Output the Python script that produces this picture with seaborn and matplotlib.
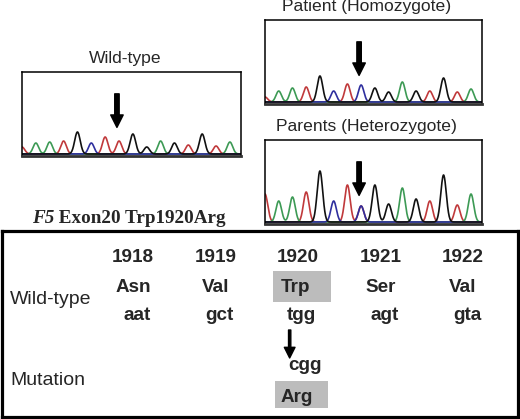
import numpy as np
import pandas as pd
import matplotlib
matplotlib.use("Agg")
import matplotlib.pyplot as plt
import seaborn as sns

# peak calls (one peak per base position)
WT_BASES = list("taatgcttggagtgta")
WT_HEIGHTS = [7, 11, 12, 13, 22, 11, 17, 13, 20, 7, 13, 11, 9, 20, 8, 12]
PT_BASES = list("taatgctcggagtgta")
PT_HEIGHTS = [5, 11, 14, 15, 26, 11, 18, 17, 14, 10, 20, 11, 11, 24, 10, 13]
PR_BASES = ["t", "a", "a", "t", "g", "c", "t", "ct", "g", "g", "a", "g", "t", "g", "t", "a"]
PR_HEIGHTS = [28, 21, 25, 30, 51, 21, 37, 16, 37, 18, 34, 23, 21, 47, 17, 28]
MUT_POS = 7

# table contents
CODON_NUM = ["1918", "1919", "1920", "1921", "1922"]
WT_AA = ["Asn", "Val", "Trp", "Ser", "Val"]
WT_CODON = ["aat", "gct", "tgg", "agt", "gta"]
MUT_COL = 2
MUT_CODON = "cgg"
MUT_AA = "Arg"

BASE_COLORS = {"a": "#3d9a55", "c": "#2f2f9e", "g": "#111111", "t": "#c0393b"}

sns.set_style("white")
plt.rcParams["font.family"] = ["Liberation Sans", "DejaVu Sans"]

W, H = 520, 419
fig = plt.figure(figsize=(W / 100, H / 100), dpi=100)


def px_axes(x0, y0, x1, y1):
    return fig.add_axes([x0 / W, 1 - y1 / H, (x1 - x0) / W, (y1 - y0) / H])


def trace_frame(bases, heights, sigma=0.2):
    grid = np.linspace(-0.6, 16.4, 900)
    rows = []
    for b in "acgt":
        sig = np.zeros_like(grid)
        for i, (bb, h) in enumerate(zip(bases, heights)):
            if b in bb:
                sig += h * np.exp(-((grid - i) ** 2) / (2 * sigma ** 2))
        rows.append(pd.DataFrame({"pos": grid, "signal": sig, "base": b}))
    return pd.concat(rows, ignore_index=True)


def chromatogram(box, bases, heights, title):
    ax = px_axes(*box)
    df = trace_frame(bases, heights)
    sns.lineplot(data=df, x="pos", y="signal", hue="base", palette=BASE_COLORS,
                 hue_order=list("tacg"), estimator=None, sort=False, legend=False,
                 lw=1.2, ax=ax)
    ax.set_xlim(0, 15.8)
    ax.set_ylim(-2, 82)
    ax.set_xticks([])
    ax.set_yticks([])
    ax.set_xlabel("")
    ax.set_ylabel("")
    for s in ax.spines.values():
        s.set_color("black")
        s.set_linewidth(1.1)
    ax.spines["bottom"].set_linewidth(2.0)
    ax.spines["bottom"].set_color("#333333")
    ax.annotate("", xy=(MUT_POS - 0.15, 0.34), xytext=(MUT_POS - 0.15, 0.74),
                xycoords=("data", "axes fraction"), textcoords=("data", "axes fraction"),
                arrowprops=dict(arrowstyle="simple,head_length=0.9,head_width=0.9,tail_width=0.32",
                                mutation_scale=10, color="black", shrinkA=0, shrinkB=0))
    ax.text(0.47, 1.155, title, transform=ax.transAxes, ha="center", va="center",
            fontsize=12.6)
    return ax


chromatogram((22, 72, 241, 156), WT_BASES, WT_HEIGHTS, "Wild-type")
chromatogram((265, 20, 482, 104), PT_BASES, PT_HEIGHTS, "Patient (Homozygote)")
chromatogram((265, 140, 482, 224), PR_BASES, PR_HEIGHTS, "Parents (Heterozygote)")

# title of the table: italic gene symbol followed by upright text
over = fig.add_axes([0, 0, 1, 1])
over.set_xlim(0, W)
over.set_ylim(H, 0)
over.axis("off")
serif = dict(family="Liberation Serif", weight="bold", fontsize=13.8, va="center")
gene = over.text(32, 218, "F5", style="italic", ha="left", **serif)
fig.canvas.draw()
bb = gene.get_window_extent(fig.canvas.get_renderer())
x_end = over.transData.inverted().transform((bb.x1, bb.y0))[0]
over.text(x_end, 218, " Exon20 Trp1920Arg", ha="left", **serif)

# table: columns in index units, rows in pixel units from the top of the box
tab = px_axes(2, 231, 518, 417)
tab.set_xlim(-1.59, 4.67)
tab.set_ylim(186, 0)
tab.set_xticks([])
tab.set_yticks([])
for s in tab.spines.values():
    s.set_color("black")
    s.set_linewidth(2.3)
tab.patch.set_alpha(0)

cols = np.arange(len(CODON_NUM))
bold = dict(fontsize=13.6, weight="bold", ha="center", va="center")
for c, num, aa, cod in zip(cols, CODON_NUM, WT_AA, WT_CODON):
    tab.text(c, 26, num, **bold)
    dx = 0.0
    if c == MUT_COL:
        tab.add_patch(plt.Rectangle((c - 0.3, 40), 0.70, 31, color="#bcbcbc", lw=0))
        dx = -0.03
    tab.text(c + dx, 56, aa, **bold)
    tab.text(c + 0.05 if c != MUT_COL else c + 0.04, 84, cod, **bold)

tab.text(-1.49, 68, "Wild-type", fontsize=14, ha="left", va="center")
tab.text(-1.49, 149, "Mutation", fontsize=14, ha="left", va="center")

tab.annotate("", xy=(MUT_COL - 0.1, 127), xytext=(MUT_COL - 0.1, 99),
             arrowprops=dict(arrowstyle="simple,head_length=0.7,head_width=0.7,tail_width=0.15",
                             mutation_scale=11, color="black", shrinkA=0, shrinkB=0))
tab.text(MUT_COL + 0.08, 134, MUT_CODON, **bold)
tab.add_patch(plt.Rectangle((MUT_COL - 0.28, 150), 0.64, 27, color="#bcbcbc", lw=0))
tab.text(MUT_COL - 0.02, 166, MUT_AA, **bold)

fig.savefig("out.png", dpi=100)
